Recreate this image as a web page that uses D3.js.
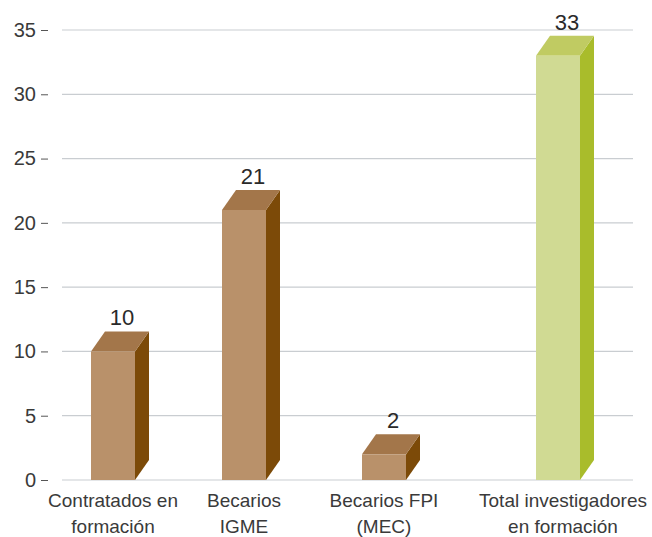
<!DOCTYPE html>
<html>
<head>
<meta charset="utf-8">
<script src="https://cdn.jsdelivr.net/npm/d3@7"></script>
<style>
  html, body { margin: 0; padding: 0; background: #fff; }
  svg { display: block; }
  text { font-family: "Liberation Sans", Arial, sans-serif; fill: #333; }
</style>
</head>
<body>
<svg id="chart" width="652" height="537"></svg>
<script>
// Researchers in training, by category
const categories = ["Contratados en formación", "Becarios IGME", "Becarios FPI (MEC)", "Total investigadores en formación"];
const labelLines = [["Contratados en", "formación"], ["Becarios", "IGME"], ["Becarios FPI", "(MEC)"], ["Total investigadores", "en formación"]];
const values = [10, 21, 2, 33];
const yTicks = [0, 5, 10, 15, 20, 25, 30, 35];

// Palettes for front, top and side faces of each prism
const brown = { front: "#b9916a", top: "#a3764a", side: "#7c4a08" };
const green = { front: "#d0da93", top: "#c0cb62", side: "#a9bc2b" };
const palettes = [brown, brown, brown, green];

const svg = d3.select("#chart");
const gridLeft = 62, gridRight = 633;
const barW = 44, depthX = 14, depthY = 20;

const y = d3.scaleLinear().domain([0, 35]).range([480, 30]);
// Slot centres of the four category columns
const x = d3.scaleOrdinal().domain(categories).range([113, 244, 384, 558]);

// Horizontal grid lines
svg.append("g").selectAll("line").data(yTicks).join("line")
  .attr("x1", gridLeft).attr("x2", gridRight)
  .attr("y1", d => y(d)).attr("y2", d => y(d))
  .attr("stroke", "#c9cdd1").attr("stroke-width", 1.2);

// Left axis: values with a short dash tick
const axis = svg.append("g").attr("transform", "translate(48,0)")
  .call(d3.axisLeft(y).tickValues(yTicks).tickSize(7).tickPadding(5));
axis.select(".domain").remove();
axis.selectAll(".tick line").attr("stroke", "#555").attr("stroke-width", 1);
axis.selectAll(".tick text")
  .style("font-size", "20px").style("fill", "#3a3a3a")
  .attr("font-family", "Liberation Sans, Arial, sans-serif");

// 3D bars
const bars = svg.append("g").selectAll("g").data(values).join("g");
bars.each(function (v, i) {
  const g = d3.select(this);
  const cx = x(categories[i]);
  const x0 = cx - barW / 2, x1 = cx + barW / 2;
  const yt = y(v), yb = y(0);
  const p = palettes[i];
  // side face
  g.append("path")
    .attr("d", `M${x1},${yt} L${x1 + depthX},${yt - depthY} L${x1 + depthX},${yb - depthY} L${x1},${yb} Z`)
    .attr("fill", p.side);
  // top face
  g.append("path")
    .attr("d", `M${x0},${yt} L${x0 + depthX},${yt - depthY} L${x1 + depthX},${yt - depthY} L${x1},${yt} Z`)
    .attr("fill", p.top);
  // front face
  g.append("rect")
    .attr("x", x0).attr("y", yt).attr("width", barW).attr("height", yb - yt)
    .attr("fill", p.front);
  // value label
  g.append("text")
    .attr("x", cx + depthX / 2 + 2).attr("y", yt - depthY - 6)
    .attr("text-anchor", "middle")
    .style("font-size", "22px")
    .style("fill", "#2a2a2a")
    .text(v);
});

// Category labels, two lines each
const cats = svg.append("g").selectAll("text").data(categories).join("text")
  .attr("text-anchor", "middle")
  .style("font-size", "19px")
  .style("fill", "#3a3a3a");
cats.each(function (c, i) {
  const t = d3.select(this);
  const cx = x(c) + (i === 3 ? 5 : 0);
  labelLines[i].forEach((line, j) => {
    t.append("tspan").attr("x", cx).attr("y", 507 + j * 25.5).text(line);
  });
});
</script>
</body>
</html>
